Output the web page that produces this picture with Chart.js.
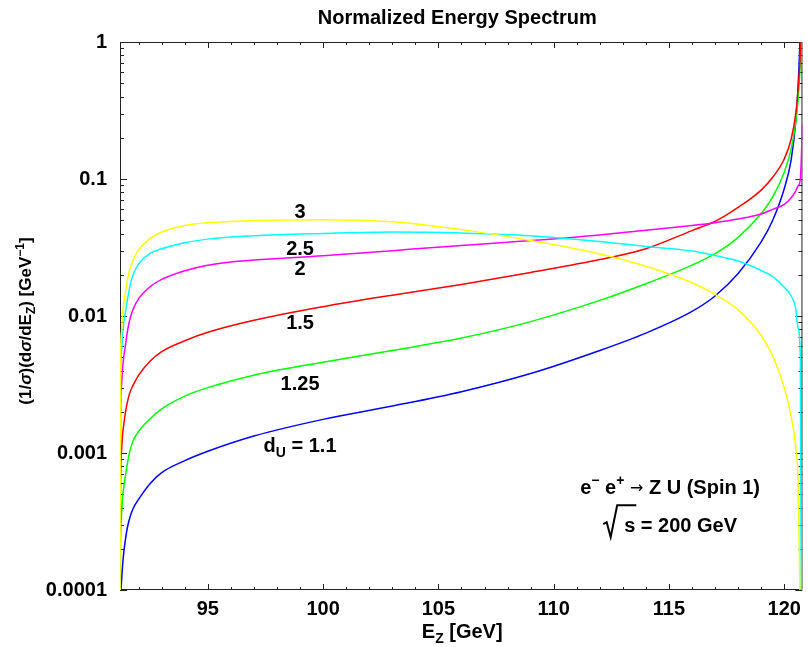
<!DOCTYPE html>
<html>
<head>
<meta charset="utf-8">
<title>Normalized Energy Spectrum</title>
<script src="https://cdn.jsdelivr.net/npm/chart.js@4.4.1/dist/chart.umd.min.js"></script>
<style>
  html, body { margin: 0; padding: 0; background: #fff; }
  #wrap { width: 808px; height: 647px; position: relative; }
</style>
</head>
<body>
<div id="wrap"><canvas id="spectrum"></canvas></div>
<script>
'use strict';

// ── Data: Z energy grid [GeV] and normalised spectra per d_U ──
const energy = [91.19, 91.21, 91.25, 91.3, 91.35, 91.42, 91.5, 91.6, 91.75, 92, 92.5, 93, 94, 95, 97, 100,
                103, 106, 109, 112, 114, 116, 117, 118, 119, 119.5, 120, 120.3, 120.5, 120.6, 120.7, 120.79];

const dU3   = [0.00005, 0.0043, 0.0075, 0.0101, 0.0122, 0.0147, 0.0178, 0.0215, 0.0254, 0.0304, 0.0369, 0.041, 0.0458, 0.048, 0.0497, 0.0505,
               0.0488, 0.0427, 0.0356, 0.0284, 0.0231, 0.0175, 0.0144, 0.0111, 0.0072, 0.0051, 0.0030, 0.00184, 0.0011, 0.0006, 0.00004, 1e-7];
const dU25  = [0.00005, 0.0031, 0.0053, 0.0073, 0.0088, 0.0105, 0.0128, 0.0158, 0.0198, 0.0240, 0.0287, 0.031, 0.0343, 0.0364, 0.0385, 0.040,
               0.041, 0.0403, 0.0386, 0.035, 0.0322, 0.0298, 0.0276, 0.0252, 0.0215, 0.0194, 0.0162, 0.0140, 0.0113, 0.0082, 0.005, 1e-7];
const dU2   = [0.00005, 0.00175, 0.003, 0.0041, 0.005, 0.006, 0.0075, 0.0092, 0.0111, 0.0134, 0.0164, 0.0185, 0.0214, 0.0235, 0.0256, 0.0275,
               0.0300, 0.0327, 0.0355, 0.039, 0.0422, 0.0458, 0.048, 0.051, 0.0555, 0.060, 0.0652, 0.073, 0.082, 0.089, 0.10, 0.25];
const dU15  = [0.00005, 0.00058, 0.001, 0.00135, 0.0016, 0.00195, 0.0023, 0.0027, 0.0031, 0.0037, 0.0047, 0.0055, 0.0066, 0.0076, 0.0093, 0.0117,
               0.0142, 0.0170, 0.0208, 0.0258, 0.031, 0.042, 0.049, 0.062, 0.083, 0.103, 0.14, 0.195, 0.30, 0.45, 0.85, 3];
const dU125 = [0.00003, 0.0002, 0.00034, 0.00047, 0.00056, 0.00067, 0.00082, 0.001, 0.00122, 0.00144, 0.00178, 0.0021, 0.0026, 0.0030, 0.0037, 0.0046,
               0.0056, 0.0069, 0.0091, 0.013, 0.0172, 0.0235, 0.0285, 0.0375, 0.056, 0.074, 0.112, 0.165, 0.26, 0.38, 0.75, 3];
const dU11  = [0.00002, 0.00007, 0.00011, 0.00015, 0.000185, 0.00023, 0.00028, 0.00033, 0.00039, 0.00046, 0.0006, 0.00072, 0.00088, 0.00103, 0.00133, 0.00176,
               0.0022, 0.0028, 0.0038, 0.0056, 0.0075, 0.0108, 0.014, 0.0204, 0.0347, 0.050, 0.085, 0.138, 0.263, 0.47, 1.26, 5];

const xTickValues = [95, 100, 105, 110, 115, 120];
const xTickLabels = ['95', '100', '105', '110', '115', '120'];
const yTickValues = [0.0001, 0.001, 0.01, 0.1, 1];
const yTickLabels = ['0.0001', '0.001', '0.01', '0.1', '1'];

const FONT = "'Liberation Sans', Arial, Helvetica, sans-serif";

// ── Curve annotations, placed in data coordinates ─────────────
const curveLabels = [
  { parts: [{ t: '3' }],    at: [99.0, 0.0587] },
  { parts: [{ t: '2.5' }],  at: [99.0, 0.0317] },
  { parts: [{ t: '2' }],    at: [99.0, 0.0223] },
  { parts: [{ t: '1.5' }],  at: [99.0, 0.00908] },
  { parts: [{ t: '1.25' }], at: [99.0, 0.00326] },
  { parts: [{ t: 'd' }, { t: 'U', sub: true }, { t: ' = 1.1' }], at: [99.0, 0.00114] },
];

// ── Helpers ───────────────────────────────────────────────────
function partFont(p, size) {
  if (p.font) return p.font;
  return `${p.it ? 'italic ' : ''}bold ${size}px ${FONT}`;
}

// draws a run of text pieces with sub/superscripts; y is the visual centre line
function drawRich(ctx, parts, x, y, size) {
  const sz = p => (p.sub || p.sup) ? Math.round(size * 0.7) : size;
  let total = 0;
  parts.forEach(p => {
    ctx.font = partFont(p, sz(p));
    total += ctx.measureText(p.t).width;
  });
  const base = y + size * 0.36;
  let cx = x - total / 2;
  ctx.textAlign = 'left';
  ctx.textBaseline = 'alphabetic';
  parts.forEach(p => {
    ctx.font = partFont(p, sz(p));
    const dy = p.sub ? size * 0.25 : p.sup ? -size * 0.42 : (p.raise || 0);
    ctx.fillText(p.t, cx, base + dy);
    cx += ctx.measureText(p.t).width;
  });
  return total;
}

function series(label, values, color) {
  return {
    label,
    data: energy.map((e, i) => ({ x: e, y: values[i] })),
    borderColor: color,
    backgroundColor: color,
    borderWidth: 1.5,
    pointRadius: 0,
    cubicInterpolationMode: 'monotone',
    fill: false,
  };
}

// ── Frame with inward ticks on all four sides ─────────────────
const frameTicks = {
  id: 'frameTicks',
  beforeDatasetsDraw(chart) {
    const { ctx, chartArea: a, scales: { x, y } } = chart;
    ctx.save();
    ctx.strokeStyle = '#222';
    ctx.lineWidth = 1;
    ctx.beginPath();
    ctx.rect(a.left + 0.5, a.top + 0.5, a.right - a.left - 1, a.bottom - a.top - 1);
    for (let v = 92; v <= 120; v++) {
      const px = Math.round(x.getPixelForValue(v)) + 0.5;
      const len = v % 5 === 0 ? 6 : 3;
      ctx.moveTo(px, a.bottom); ctx.lineTo(px, a.bottom - len);
      ctx.moveTo(px, a.top);    ctx.lineTo(px, a.top + len);
    }
    for (let d = 0; d < yTickValues.length; d++) {
      const dec = yTickValues[d];
      for (let k = 1; k <= 9; k++) {
        if (dec === 1 && k > 1) break;
        const py = Math.round(y.getPixelForValue(dec * k)) + 0.5;
        const len = k === 1 ? 7 : 4;
        ctx.moveTo(a.left, py);  ctx.lineTo(a.left + len, py);
        ctx.moveTo(a.right, py); ctx.lineTo(a.right - len, py);
      }
    }
    ctx.stroke();
    ctx.restore();
  },
};

// ── Title, axis titles and in-plot text ───────────────────────
const textLayer = {
  id: 'textLayer',
  afterDatasetsDraw(chart) {
    const { ctx, chartArea: a, scales: { x, y } } = chart;
    const midX = (a.left + a.right) / 2;
    ctx.save();
    ctx.fillStyle = '#000';

    drawRich(ctx, [{ t: 'Normalized Energy Spectrum' }], midX - 4, 17, 20);

    drawRich(ctx, [{ t: 'E' }, { t: 'Z', sub: true }, { t: ' [GeV]' }], midX + 1, 631, 20);

    ctx.save();
    ctx.translate(25, (a.top + a.bottom) / 2 + 5);
    ctx.rotate(-Math.PI / 2);
    drawRich(ctx, [
      { t: '(1/' }, { t: 'σ', it: true }, { t: ')(d' }, { t: 'σ', it: true }, { t: '/dE' },
      { t: 'Z', sub: true }, { t: ') [GeV' }, { t: '−1', sup: true }, { t: ']' },
    ], 0, 0, 17);
    ctx.restore();

    curveLabels.forEach(l => {
      drawRich(ctx, l.parts, x.getPixelForValue(l.at[0]), y.getPixelForValue(l.at[1]), 20);
    });

    // process and centre-of-mass energy
    const cx = x.getPixelForValue(115.05);
    drawRich(ctx, [
      { t: 'e' }, { t: '−', sup: true }, { t: ' e' }, { t: '+', sup: true },
      { t: ' ' }, { t: '→', font: "16px 'DejaVu Sans', sans-serif", raise: -1 }, { t: ' Z U (Spin 1)' },
    ], cx, y.getPixelForValue(0.000568), 20);

    const rowY = y.getPixelForValue(0.000298);
    const size = 20;
    ctx.font = partFont({}, size);
    const sW = ctx.measureText('s').width;
    const eqW = ctx.measureText(' = 200 GeV').width;
    const radW = 21;
    const x0 = cx - (radW + sW + eqW) / 2;
    const base = rowY + size * 0.36;
    ctx.strokeStyle = '#000';
    ctx.lineWidth = 2;
    ctx.lineJoin = 'miter';
    ctx.beginPath();
    ctx.moveTo(x0, base - 8);
    ctx.lineTo(x0 + 3.5, base - 10);
    ctx.lineTo(x0 + 7.5, base + 5);
    ctx.lineTo(x0 + 14, base - 27);
    ctx.lineTo(x0 + radW + sW + 1, base - 27);
    ctx.stroke();
    ctx.textAlign = 'left';
    ctx.textBaseline = 'alphabetic';
    ctx.fillText('s', x0 + radW, base);
    drawRich(ctx, [{ t: ' = 200 GeV' }], x0 + radW + sW + eqW / 2, rowY, size);

    ctx.restore();
  },
};

// ── Chart ─────────────────────────────────────────────────────
Chart.defaults.font.family = FONT;
Chart.defaults.color = '#000';

new Chart(document.getElementById('spectrum'), {
  type: 'line',
  data: {
    datasets: [
      series('d_U = 3',    dU3,   '#ffff00'),
      series('d_U = 2.5',  dU25,  '#00ffff'),
      series('d_U = 2',    dU2,   '#ff00ff'),
      series('d_U = 1.5',  dU15,  '#ff0000'),
      series('d_U = 1.25', dU125, '#00ff00'),
      series('d_U = 1.1',  dU11,  '#0000ff'),
    ],
  },
  options: {
    responsive: true,
    maintainAspectRatio: false,
    animation: false,
    layout: { padding: { top: 42, right: 3, left: 0, bottom: 0 } },
    plugins: {
      legend: { display: false },
      tooltip: { enabled: false },
      title: { display: false },
    },
    scales: {
      x: {
        type: 'linear',
        min: 91.19,
        max: 120.79,
        grid: { display: false, drawTicks: false },
        border: { display: false },
        afterBuildTicks: s => { s.ticks = xTickValues.map(v => ({ value: v })); },
        afterFit: s => { s.height = 57; },
        ticks: {
          autoSkip: false,
          maxRotation: 0,
          padding: 7,
          color: '#000',
          font: { size: 20, weight: 'bold' },
          callback: (v, i) => xTickLabels[i],
        },
      },
      y: {
        type: 'logarithmic',
        min: 0.0001,
        max: 1,
        grid: { display: false, drawTicks: false },
        border: { display: false },
        afterBuildTicks: s => { s.ticks = yTickValues.map(v => ({ value: v })); },
        afterFit: s => { s.width = 120; },
        ticks: {
          autoSkip: false,
          padding: 13,
          color: '#000',
          font: { size: 20, weight: 'bold' },
          callback: (v, i) => yTickLabels[i],
        },
      },
    },
  },
  plugins: [frameTicks, textLayer],
});
</script>
</body>
</html>
